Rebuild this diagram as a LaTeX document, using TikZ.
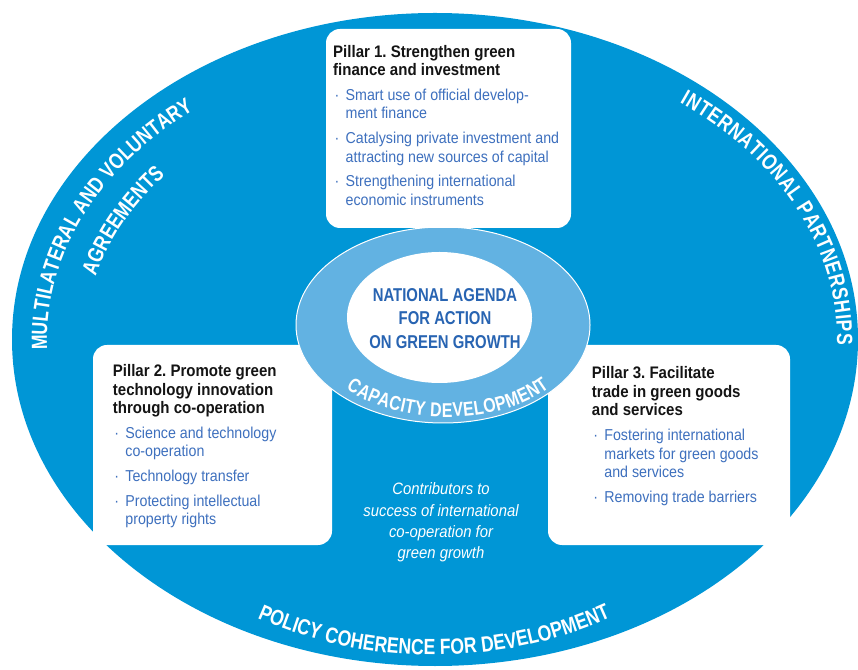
\documentclass[tikz,border=0pt]{standalone}
\usepackage{fontspec}
\setmainfont{Liberation Sans}[FakeStretch=0.9]
\newfontfamily\capsfont{Liberation Sans}[FakeStretch=0.8]
\newfontfamily\curvefam{Liberation Sans}[FakeStretch=0.8]
\usetikzlibrary{decorations.text}
\definecolor{bigblue}{RGB}{0,150,214}
\definecolor{ringblue}{RGB}{98,178,226}
\definecolor{bulblue}{RGB}{62,112,190}
\definecolor{navy}{RGB}{40,100,178}
\definecolor{titlecol}{RGB}{20,20,20}
\newcommand\curvefont{\curvefam\bfseries\fontsize{22pt}{22pt}\selectfont}
\newcommand\curvefontsmall{\curvefam\bfseries\fontsize{20pt}{20pt}\selectfont}
\newcommand\ptitle{\bfseries\fontsize{16.7pt}{18.5pt}\selectfont\color{titlecol}}
\newcommand\pbody{\mdseries\fontsize{15.8pt}{18.5pt}\selectfont}
\newcommand\pbul[1]{\par\hangindent=12.5pt\hangafter=1\leavevmode\color{bulblue}\hbox to 12.5pt{\hskip1.5pt\textperiodcentered\hss}#1}
\newcommand\pillartext[2]{\vtop{\hsize=260pt\parindent=0pt\parskip=6.2pt\frenchspacing\raggedright\leavevmode#1\par#2\par}}
\newcommand\centerlines[2]{\vtop{\hsize=#1\parindent=0pt\centering\leavevmode#2\par}}
\begin{document}
\begin{tikzpicture}[x=1pt,y=1pt,
  pillarbox/.style={fill=white, rounded corners=14pt},
  textnode/.style={inner sep=0pt},
  curved/.style={decorate, decoration={text along path, text color=white, text align={fit to path}, text={|\curvefont|#1}}},
  curvedsmall/.style={decorate, decoration={text along path, text color=white, text align={fit to path}, text={|\curvefontsmall|#1}}}]
\useasboundingbox (0,0) rectangle (858,669);
% big ellipse
\fill[bigblue] (435,329.5) ellipse [x radius=423pt, y radius=326.5pt];
% lower pillar boxes
\fill[pillarbox] (93,124) rectangle (332,324);
\fill[pillarbox] (548,124) rectangle (790,324);
% ring
\filldraw[fill=ringblue, draw=white, line width=1pt] (443,344) ellipse [x radius=147pt, y radius=98pt];
\fill[white] (439.5,351.5) ellipse [x radius=92.5pt, y radius=65.5pt];
% top pillar box
\fill[pillarbox] (326,441) rectangle (571,640);
% curved labels
\path[curved={MULTILATERAL AND VOLUNTARY}] ([shift={(182:395pt and 295pt)}]442,329.5) arc[start angle=182, end angle=129, x radius=395pt, y radius=295pt];
\path[curved={AGREEMENTS}] ([shift={(166:357pt and 260pt)}]442,329.5) arc[start angle=166, end angle=141, x radius=357pt, y radius=260pt];
\path[curved={INTERNATIONAL PARTNERSHIPS}] ([shift={(53:395pt and 297pt)}]442,329.5) arc[start angle=53, end angle=-1, x radius=395pt, y radius=297pt];
\path[curved={POLICY COHERENCE FOR DEVELOPMENT}] ([shift={(242:375pt and 315.5pt)}]433.5,329.5) arc[start angle=242, end angle=298, x radius=375pt, y radius=315.5pt];
\path[curvedsmall={CAPACITY DEVELOPMENT}] ([shift={(219:130pt and 77pt)}]447,329) arc[start angle=219, end angle=322, x radius=130pt, y radius=77pt];
% centre text
\node[textnode, anchor=base] (agenda) at (445,367.3) {\centerlines{220pt}{\capsfont\bfseries\fontsize{18.6pt}{23.3pt}\selectfont\color{navy}NATIONAL AGENDA\\FOR ACTION\\ON GREEN GROWTH}};
% contributors
\node[textnode, anchor=base] (contrib) at (441,174) {\centerlines{240pt}{\itshape\fontsize{16.5pt}{21pt}\selectfont\color{white}Contributors to\\success of international\\co-operation for\\green growth}};
% pillar texts
\node[textnode, anchor=base west] (p1) at (333,611.7) {\pillartext{\ptitle Pillar 1. Strengthen green\newline finance and investment}{\pbody\pbul{Smart use of official develop-\newline ment finance}\pbul{Catalysing private investment and\newline attracting new sources of capital}\pbul{Strengthening international\newline economic instruments}}};
\node[textnode, anchor=base west] (p2) at (112.7,292.3) {\pillartext{\ptitle Pillar 2. Promote green\newline technology innovation\newline through co-operation}{\pbody\pbul{Science and technology\newline co-operation}\pbul{Technology transfer}\pbul{Protecting intellectual\newline property rights}}};
\node[textnode, anchor=base west] (p3) at (591.7,290) {\pillartext{\ptitle Pillar 3. Facilitate\newline trade in green goods\newline and services}{\pbody\pbul{Fostering international\newline markets for green goods\newline and services}\pbul{Removing trade barriers}}};
\end{tikzpicture}
\end{document}
